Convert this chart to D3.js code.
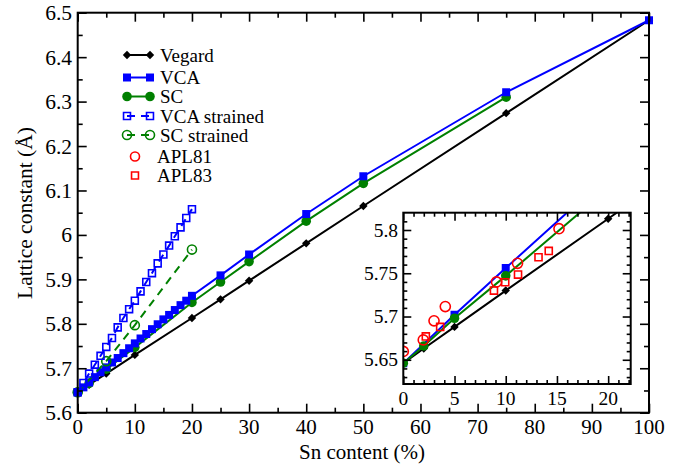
<!DOCTYPE html>
<html>
<head>
<meta charset="utf-8">
<script src="https://cdn.jsdelivr.net/npm/d3@7"></script>
<style>
  body { margin: 0; background: #fff; }
  text { font-family: "Liberation Serif", "Times New Roman", serif; fill: #000; }
</style>
</head>
<body>
<div id="app"></div>
<script>
'use strict'
// data (Sn %, lattice constant in Å)
const vegardSn = [0, 2, 5, 10, 20, 25, 30, 40, 50, 75, 100]
const vegardA = [5.646, 5.663, 5.688, 5.730, 5.813, 5.855, 5.897, 5.981, 6.065, 6.274, 6.483]

const vcaSn = [0, 1, 2, 3, 4, 5, 6, 7, 8, 9, 10, 11, 12, 13, 14, 15, 16, 17, 18, 19, 20, 25, 30, 40, 50, 75, 100]
const vcaA = [5.646, 5.657, 5.668, 5.680, 5.691, 5.702, 5.713, 5.723, 5.734, 5.745, 5.756, 5.767, 5.777, 5.788,
  5.799, 5.810, 5.820, 5.831, 5.842, 5.852, 5.863, 5.909, 5.956, 6.047, 6.132, 6.321, 6.483]
const vcaInsetSn = [0, 5, 10, 20, 25]

const scSn = [0, 2, 5, 10, 20, 25, 30, 40, 50, 75]
const scA = [5.646, 5.666, 5.698, 5.747, 5.848, 5.894, 5.940, 6.031, 6.116, 6.310]

const vcaStrSn = [0, 1, 2, 3, 4, 5, 6, 7, 8, 9, 10, 11, 12, 13, 14, 15, 16, 17, 18, 19, 20]
const vcaStrA = [5.646, 5.667, 5.688, 5.708, 5.728, 5.748, 5.768, 5.792, 5.813, 5.833, 5.852, 5.873, 5.894,
  5.914, 5.936, 5.956, 5.976, 5.997, 6.017, 6.038, 6.058]

const scStrSn = [0, 5, 10, 20]
const scStrA = [5.646, 5.716, 5.797, 5.967]

const apl81Sn = [0, 1.95, 3.0, 4.1, 9.1, 11.15, 15.2]
const apl81A = [5.6596, 5.673, 5.695, 5.7115, 5.740, 5.7615, 5.8015]
const apl83Sn = [2.2, 3.6, 8.85, 9.95, 11.2, 13.2, 14.2]
const apl83A = [5.677, 5.688, 5.730, 5.7396, 5.7485, 5.7685, 5.7758]

const xTicks = [0, 10, 20, 30, 40, 50, 60, 70, 80, 90, 100]
const yTicks = [5.6, 5.7, 5.8, 5.9, 6.0, 6.1, 6.2, 6.3, 6.4, 6.5]
const yTickLabels = ['5.6', '5.7', '5.8', '5.9', '6', '6.1', '6.2', '6.3', '6.4', '6.5']
const insetXTicks = [0, 5, 10, 15, 20]
const insetYTicks = [5.65, 5.7, 5.75, 5.8]

const blue = '#0000ff'
const green = '#008000'
const red = '#ff0000'

const zip = (xs, ys) => xs.map((v, i) => ({ x: v, y: ys[i] }))
const vegard = zip(vegardSn, vegardA)
const vca = zip(vcaSn, vcaA)
const sc = zip(scSn, scA)
const vcaStr = zip(vcaStrSn, vcaStrA)
const scStr = zip(scStrSn, scStrA)
const apl81 = zip(apl81Sn, apl81A)
const apl83 = zip(apl83Sn, apl83A)

const W = 685, H = 464
const svg = d3.select('#app').append('svg').attr('width', W).attr('height', H)

const x = d3.scaleLinear().domain([0, 100]).range([77.7, 649])
const y = d3.scaleLinear().domain([5.6, 6.5]).range([412.7, 12.7])

const diamond = 'M0,-4.2L4.2,0L0,4.2L-4.2,0Z'

function drawSeries (g, data, sx, sy, opt) {
  const line = d3.line().x(d => sx(d.x)).y(d => sy(d.y))
  g.append('path').datum(data)
    .attr('d', line)
    .attr('fill', 'none')
    .attr('stroke', opt.color)
    .attr('stroke-width', 2)
    .attr('stroke-dasharray', opt.dash || null)
  drawMarkers(g, data, sx, sy, opt)
}

function drawMarkers (g, data, sx, sy, opt) {
  const sel = g.append('g').selectAll('path').data(data).enter().append('path')
    .attr('transform', d => `translate(${sx(d.x)},${sy(d.y)})`)
  if (opt.shape === 'diamond') sel.attr('d', diamond)
  else if (opt.shape === 'square') sel.attr('d', d3.symbol(d3.symbolSquare, opt.size || 56)())
  else sel.attr('d', d3.symbol(d3.symbolCircle, opt.size || 64)())
  if (opt.open) {
    sel.attr('fill', 'none').attr('stroke', opt.color).attr('stroke-width', 1.6)
  } else {
    sel.attr('fill', opt.color).attr('stroke', 'none')
  }
}

// axes with inward ticks on all four sides
function frameAxes (g, sx, sy, o) {
  const [x0, x1] = sx.range()
  const [y0, y1] = sy.range()
  const ax = [
    [d3.axisBottom(sx).tickValues(o.xMinor).tickSize(-o.minor), y0],
    [d3.axisBottom(sx).tickValues(o.xMajor).tickSize(-o.major), y0],
    [d3.axisTop(sx).tickValues(o.xMinor).tickSize(-o.minor), y1],
    [d3.axisTop(sx).tickValues(o.xMajor).tickSize(-o.major), y1]
  ]
  ax.forEach(([a, ty]) => {
    g.append('g').attr('transform', `translate(0,${ty})`)
      .call(a.tickFormat(''))
      .call(s => s.select('.domain').remove())
      .call(s => s.selectAll('line').attr('stroke', '#000').attr('stroke-width', 1.6))
  })
  const ay = [
    [d3.axisLeft(sy).tickValues(o.yMinor).tickSize(-o.minor), x0],
    [d3.axisLeft(sy).tickValues(o.yMajor).tickSize(-o.major), x0],
    [d3.axisRight(sy).tickValues(o.yMinor).tickSize(-o.minor), x1],
    [d3.axisRight(sy).tickValues(o.yMajor).tickSize(-o.major), x1]
  ]
  ay.forEach(([a, tx]) => {
    g.append('g').attr('transform', `translate(${tx},0)`)
      .call(a.tickFormat(''))
      .call(s => s.select('.domain').remove())
      .call(s => s.selectAll('line').attr('stroke', '#000').attr('stroke-width', 1.6))
  })
  g.append('rect')
    .attr('x', x0).attr('y', y1).attr('width', x1 - x0).attr('height', y0 - y1)
    .attr('fill', 'none').attr('stroke', '#000').attr('stroke-width', 2)
}

const main = svg.append('g')
drawSeries(main, vegard, x, y, { color: '#000', shape: 'diamond' })
drawSeries(main, sc, x, y, { color: green, shape: 'circle', size: 72 })
drawSeries(main, vca, x, y, { color: blue, shape: 'square', size: 64 })
drawSeries(main, scStr, x, y, { color: green, shape: 'circle', size: 64, open: true, dash: '8,6' })
drawSeries(main, vcaStr, x, y, { color: blue, shape: 'square', size: 48, open: true, dash: '8,6' })

frameAxes(main, x, y, {
  xMajor: xTicks,
  xMinor: d3.range(5, 100, 10),
  yMajor: yTicks,
  yMinor: d3.range(5.65, 6.5, 0.1),
  major: 9,
  minor: 5
})

main.append('g').selectAll('text').data(xTicks).enter().append('text')
  .attr('x', d => x(d)).attr('y', 434)
  .attr('text-anchor', 'middle').attr('font-size', 21)
  .text(d => d)
main.append('g').selectAll('text').data(yTicks).enter().append('text')
  .attr('x', 72).attr('y', d => y(d) + 7.5)
  .attr('text-anchor', 'end').attr('font-size', 21.5)
  .text((d, i) => yTickLabels[i])

svg.append('text')
  .attr('x', 362).attr('y', 459)
  .attr('text-anchor', 'middle').attr('font-size', 21)
  .text('Sn content (%)')
svg.append('text')
  .attr('transform', 'translate(32,213) rotate(-90)')
  .attr('text-anchor', 'middle').attr('font-size', 21.5)
  .text('Lattice constant (Å)')

// legend
const legend = [
  { label: 'Vegard', color: '#000', shape: 'diamond' },
  { label: 'VCA', color: blue, shape: 'square', size: 64 },
  { label: 'SC', color: green, shape: 'circle', size: 72 },
  { label: 'VCA strained', color: blue, shape: 'square', size: 48, open: true, dash: '8,6' },
  { label: 'SC strained', color: green, shape: 'circle', size: 64, open: true, dash: '8,6' },
  { label: 'APL81', color: red, shape: 'circle', size: 64, open: true, only: true },
  { label: 'APL83', color: red, shape: 'square', size: 48, open: true, only: true }
]
const legendY = [55, 77.5, 96.5, 116, 135, 156.5, 175.5]
legend.forEach((d, i) => {
  const g = svg.append('g').attr('transform', `translate(0,${legendY[i]})`)
  const ident = v => v
  if (d.only) {
    drawMarkers(g, [{ x: 135, y: 0 }], ident, ident, d)
    g.append('text').attr('x', 157).attr('y', 6.5).attr('font-size', 19).text(d.label)
  } else {
    drawSeries(g, [{ x: 127, y: 0 }, { x: 150, y: 0 }], ident, ident, d)
    g.append('text').attr('x', 160).attr('y', 6.5).attr('font-size', 19).text(d.label)
  }
})

// inset
const ix = d3.scaleLinear().domain([0, 22.2]).range([403.3, 630.7])
const iy = d3.scaleLinear().domain([5.622, 5.82]).range([384, 212.7])
const inset = svg.append('g')
inset.append('rect')
  .attr('x', 403.3).attr('y', 212.7).attr('width', 227.4).attr('height', 171.3)
  .attr('fill', '#fff')
svg.append('clipPath').attr('id', 'insetClip').append('rect')
  .attr('x', 403.3).attr('y', 212.7).attr('width', 227.4).attr('height', 171.3)
const plot = inset.append('g').attr('clip-path', 'url(#insetClip)')
const vcaInset = vca.filter(d => vcaInsetSn.includes(d.x))
drawSeries(plot, vegard, ix, iy, { color: '#000', shape: 'diamond' })
drawSeries(plot, vcaInset, ix, iy, { color: blue, shape: 'square', size: 64 })
drawSeries(plot, sc, ix, iy, { color: green, shape: 'circle', size: 72 })
drawMarkers(plot, apl81, ix, iy, { color: red, shape: 'circle', size: 80, open: true })
drawMarkers(plot, apl83, ix, iy, { color: red, shape: 'square', size: 50, open: true })

frameAxes(inset, ix, iy, {
  xMajor: insetXTicks,
  xMinor: d3.range(1, 23, 1).filter(v => v % 5 !== 0),
  yMajor: insetYTicks,
  yMinor: [5.63, 5.64, 5.66, 5.67, 5.68, 5.69, 5.71, 5.72, 5.73, 5.74, 5.76, 5.77, 5.78, 5.79, 5.81],
  major: 8,
  minor: 4
})

inset.append('g').selectAll('text').data(insetXTicks).enter().append('text')
  .attr('x', d => ix(d)).attr('y', 405)
  .attr('text-anchor', 'middle').attr('font-size', 19.5)
  .text(d => d)
inset.append('g').selectAll('text').data(insetYTicks).enter().append('text')
  .attr('x', 398).attr('y', d => iy(d) + 6.5)
  .attr('text-anchor', 'end').attr('font-size', 19.5)
  .text(d => d3.format('.2~f')(d))
</script>
</body>
</html>
